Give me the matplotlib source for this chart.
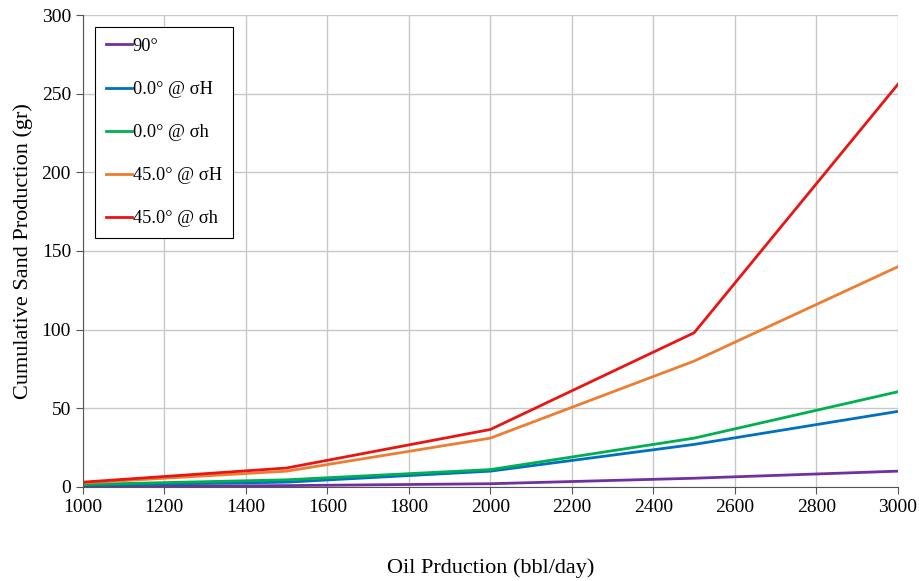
import matplotlib.pyplot as plt

oil_rate = [1000, 1500, 2000, 2500, 3000]
sand_90 = [0.3, 0.8, 2.0, 5.5, 10.0]
sand_0_sH = [1.0, 3.0, 10.0, 27.0, 48.0]
sand_0_sh = [1.5, 4.5, 11.0, 31.0, 60.5]
sand_45_sH = [2.5, 10.0, 31.0, 80.0, 140.0]
sand_45_sh = [3.0, 12.0, 36.5, 98.0, 256.0]

plt.rcParams['font.family'] = ['Liberation Serif', 'DejaVu Serif']

fig = plt.figure(figsize=(9.2, 5.81), dpi=100)
ax = fig.add_axes([0.090, 0.162, 0.886, 0.812])

ax.plot(oil_rate, sand_90, color='#7030A0', lw=2, label='90°')
ax.plot(oil_rate, sand_0_sH, color='#0070C0', lw=2, label='0.0° @ σH')
ax.plot(oil_rate, sand_0_sh, color='#00B050', lw=2, label='0.0° @ σh')
ax.plot(oil_rate, sand_45_sH, color='#ED7D31', lw=2, label='45.0° @ σH')
ax.plot(oil_rate, sand_45_sh, color='#E81515', lw=2, label='45.0° @ σh')

ax.set_xlim(1000, 3000)
ax.set_ylim(0, 300)
ax.set_xticks(range(1000, 3001, 200))
ax.set_yticks(range(0, 301, 50))
ax.grid(True, color='#c8c8c8', lw=1)
ax.set_axisbelow(True)
for s in ['top', 'right']:
    ax.spines[s].set_visible(False)
for s in ['left', 'bottom']:
    ax.spines[s].set_color('#555555')
ax.tick_params(labelsize=14, color='#555555', length=5)

ax.set_xlabel('Oil Prduction (bbl/day)', fontsize=16, labelpad=31)
ax.set_ylabel('Cumulative Sand Production (gr)', fontsize=16, labelpad=6)

leg = ax.legend(loc='upper left', bbox_to_anchor=(0.015, 0.975), fontsize=13.2,
                fancybox=False, edgecolor='black', framealpha=1,
                handlelength=1.4, handletextpad=0.05, labelspacing=1.42,
                borderpad=0.6, borderaxespad=0)
leg.get_frame().set_linewidth(0.8)

fig.savefig('out.png', dpi=100)
